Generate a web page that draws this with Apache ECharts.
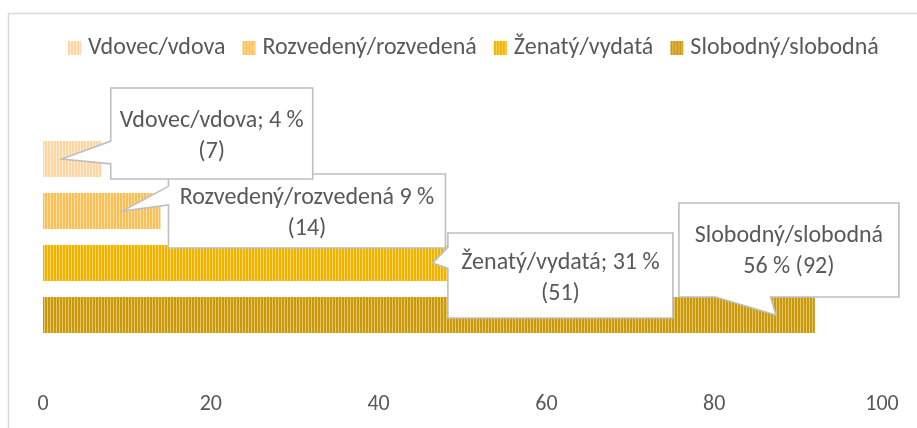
<!DOCTYPE html>
<html>
<head>
<meta charset="utf-8">
<script src="https://cdn.jsdelivr.net/npm/echarts@6/dist/echarts.min.js"></script>
<style>
html,body{margin:0;padding:0;background:#fff;}
#chart{width:917px;height:428px;}
</style>
</head>
<body>
<div id="chart"></div>
<script>
// ---- data ----
const categories = ['Vdovec/vdova', 'Rozvedený/rozvedená', 'Ženatý/vydatá', 'Slobodný/slobodná'];
const counts = [7, 14, 51, 92];
const percents = [4, 9, 31, 56];
const xTicks = [0, 20, 40, 60, 80, 100];
const calloutTexts = [
  categories[0] + '; ' + percents[0] + ' %\n(' + counts[0] + ')',
  categories[1] + ' ' + percents[1] + ' %\n(' + counts[1] + ')',
  categories[2] + '; ' + percents[2] + ' %\n(' + counts[2] + ')',
  categories[3] + '\n' + percents[3] + ' % (' + counts[3] + ')'
];

// ---- styles / layout ----
const FONT = 'Carlito, Lato, sans-serif';
const TEXT = '#595959';
const stripeColors = [
  ['#FDD6A2', '#FEEDD6'],
  ['#F9C05A', '#FCDFA2'],
  ['#F0B300', '#F8D66C'],
  ['#C99A10', '#E6C664']
];
// callout box geometry relative to bar end point (px)
const calloutLayout = [
  {dx: 9,    dy: -71,  w: 202, h: 91, tipDx: -40, side: 'left',   textDy: 3},
  {dx: 8,    dy: -37,  w: 277, h: 74, tipDx: -38, side: 'left',   textDy: 2},
  {dx: -23,  dy: -30,  w: 225, h: 85, tipDx: -38, side: 'left',   textDy: 3},
  {dx: -136, dy: -112, w: 220, h: 94, tipDx: -39, side: 'bottom', textDy: 1}
];
const drawOrder = [3, 2, 1, 0];

function stripe(fg, bg) {
  const c = document.createElement('canvas');
  c.width = 3; c.height = 4;
  const g = c.getContext('2d');
  g.fillStyle = bg; g.fillRect(0, 0, 3, 4);
  g.fillStyle = fg; g.fillRect(0, 0, 2, 4);
  return {image: c, repeat: 'repeat'};
}

const barSeries = categories.map((name, i) => ({
  name: name,
  type: 'bar',
  stack: 'all',
  barWidth: 36,
  itemStyle: {color: stripe(stripeColors[i][0], stripeColors[i][1])},
  data: categories.map((c, j) => j === i ? counts[i] : '-'),
  z: 2
}));

const calloutSeries = {
  type: 'custom',
  z: 5,
  silent: true,
  data: drawOrder.map(i => [counts[i], i, i]),
  renderItem: function (params, api) {
    const idx = api.value(2);
    const end = api.coord([api.value(0), api.value(1)]);
    const b = calloutLayout[idx];
    const L = end[0] + b.dx, T = end[1] + b.dy, W = b.w, H = b.h;
    const tip = [end[0] + b.tipDx, end[1]];
    let pts;
    if (b.side === 'left') {
      const below = tip[1] > T + H / 2;
      const y1 = T + H * (below ? 7 : 2) / 12, y2 = T + H * (below ? 10 : 5) / 12;
      pts = [[L, T], [L + W, T], [L + W, T + H], [L, T + H], [L, y2], tip, [L, y1]];
    } else {
      const right = tip[0] > L + W / 2;
      const x1 = L + W * (right ? 7 : 2) / 12, x2 = L + W * (right ? 10 : 5) / 12;
      pts = [[L, T], [L + W, T], [L + W, T + H], [x2, T + H], tip, [x1, T + H], [L, T + H]];
    }
    return {
      type: 'group',
      children: [
        {type: 'polygon', shape: {points: pts},
         style: {fill: '#ffffff', stroke: '#BFBFBF', lineWidth: 1.6, lineJoin: 'miter'}},
        {type: 'text',
         style: {x: L + W / 2, y: T + H / 2 + b.textDy, text: calloutTexts[idx], align: 'center', verticalAlign: 'middle',
                 fill: TEXT, font: '24px ' + FONT, lineHeight: 31}}
      ]
    };
  }
};

const chart = echarts.init(document.getElementById('chart'), null, {renderer: 'canvas'});
chart.setOption({
  animation: false,
  backgroundColor: '#ffffff',
  graphic: [{
    type: 'rect', left: 6, top: 11, z: 0, silent: true,
    shape: {width: 1000, height: 1000},
    style: {fill: 'none', stroke: '#D9D9D9', lineWidth: 1.5}
  }],
  legend: {
    data: categories,
    left: 68, top: 36, padding: 0,
    itemWidth: 13, itemHeight: 14, itemGap: 17,
    icon: 'rect',
    textStyle: {color: TEXT, fontSize: 24, fontFamily: FONT, padding: [0, 0, 0, 2]}
  },
  grid: {left: 43, right: 35, top: 133, bottom: 87, containLabel: false},
  xAxis: {
    type: 'value', min: xTicks[0], max: xTicks[xTicks.length - 1], interval: xTicks[1] - xTicks[0],
    axisLine: {show: false}, axisTick: {show: false}, splitLine: {show: false},
    axisLabel: {color: TEXT, fontSize: 22, fontFamily: FONT, margin: 52}
  },
  yAxis: {
    type: 'category', data: categories, inverse: true,
    axisLine: {show: false}, axisTick: {show: false}, axisLabel: {show: false}, splitLine: {show: false}
  },
  series: barSeries.concat([calloutSeries])
});
</script>
</body>
</html>
